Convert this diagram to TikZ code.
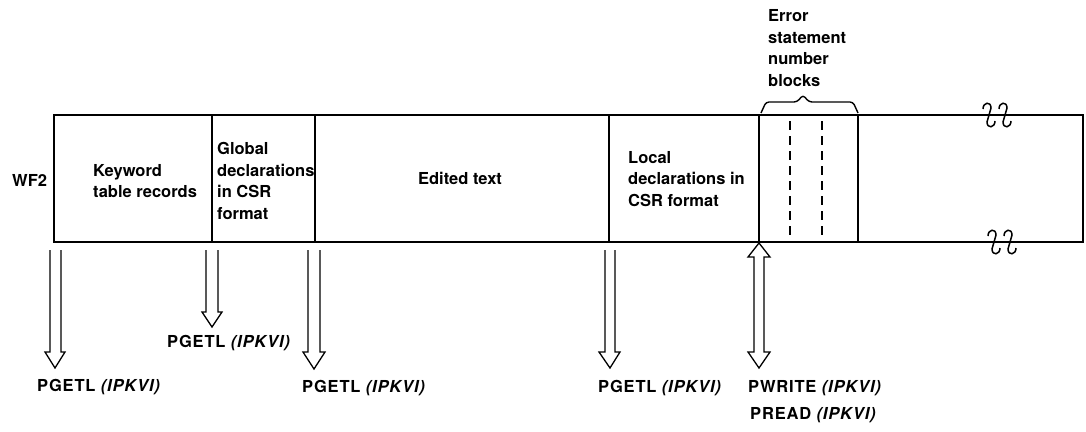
\documentclass[tikz,border=0pt]{standalone}
\usepackage{fontspec}
\setmainfont{TeX Gyre Heros}
\usetikzlibrary{calc}
\begin{document}
\begin{tikzpicture}[x=1pt,y=-1pt,
  lbl/.style={font=\fontsize{16.5}{21.7}\selectfont\bfseries, inner sep=0pt, align=left, anchor=west},
  albl/.style={lbl, font=\fontsize{16.5}{21.7}\selectfont\bfseries\addfontfeatures{LetterSpace=5}},
  boxline/.style={line width=1.6pt},
  arr/.style={line width=1.3pt, line join=miter},
  brk/.style={line width=1.5pt}]
\useasboundingbox (0,0) rectangle (1086,431);
% main record strip
\draw[boxline] (54,115) -- (1083,115) -- (1083,242) -- (54,242) -- cycle;
\foreach \x in {212,315,609,759,858}
  \draw[boxline] (\x,115) -- (\x,242);
\foreach \x in {790,822}
  \draw[line width=1.5pt, dash pattern=on 9pt off 6pt] (\x,121) -- (\x,238);
% break marks
\foreach \x/\y in {989/115,1005/115,994/242,1010/242}{
  \draw[brk] (\x-6,\y-6) .. controls (\x-6,\y-13) and (\x+2,\y-14) .. (\x+2,\y-7)
     -- (\x-2,\y+7) .. controls (\x-2,\y+14) and (\x+6,\y+13) .. (\x+6,\y+6);
}
% brace
\draw[line width=1.4pt, rounded corners=3pt] (761,113) -- (766,102) -- (797,102) -- (803,95) -- (809,102) -- (853,102) -- (858,113);
% labels in the strip
\node[lbl] (wf) at (12,180) {WF2};
\node[lbl] (kw) at (93,181) {Keyword\\table records};
\node[lbl] (gd) at (217,181) {Global\\declarations\\in CSR\\format};
\node[lbl, anchor=center] (et) at (460,178) {Edited text};
\node[lbl] (ld) at (628,179) {Local\\declarations in\\CSR format};
\node[lbl] (es) at (768,48) {Error\\statement\\number\\blocks};
% hollow arrows
\draw[arr] (50,250) -- (50,352) -- (45,352) -- (55,368) -- (65,352) -- (61,352) -- (61,250);
\draw[arr] (206,250) -- (206,312) -- (202,312) -- (212,327) -- (222,312) -- (218,312) -- (218,250);
\draw[arr] (308,250) -- (308,352) -- (303,352) -- (314,369) -- (325,352) -- (320,352) -- (320,250);
\draw[arr] (605,250) -- (605,352) -- (599,352) -- (610,368) -- (620,352) -- (615,352) -- (615,250);
\draw[arr] (759,243) -- (770,257) -- (764,257) -- (764,352) -- (770,352) -- (759,368) -- (748,352) -- (754,352) -- (754,257) -- (748,257) -- cycle;
% arrow labels
\node[albl] (p1) at (37,387) {PGETL \textit{(IPKVI)}};
\node[albl] (p2) at (167,343) {PGETL \textit{(IPKVI)}};
\node[albl] (p3) at (302,388) {PGETL \textit{(IPKVI)}};
\node[albl] (p4) at (598,388) {PGETL \textit{(IPKVI)}};
\node[albl] (pw) at (748,388) {PWRITE \textit{(IPKVI)}};
\node[albl] (pr) at (750,415) {PREAD \textit{(IPKVI)}};
\end{tikzpicture}
\end{document}
